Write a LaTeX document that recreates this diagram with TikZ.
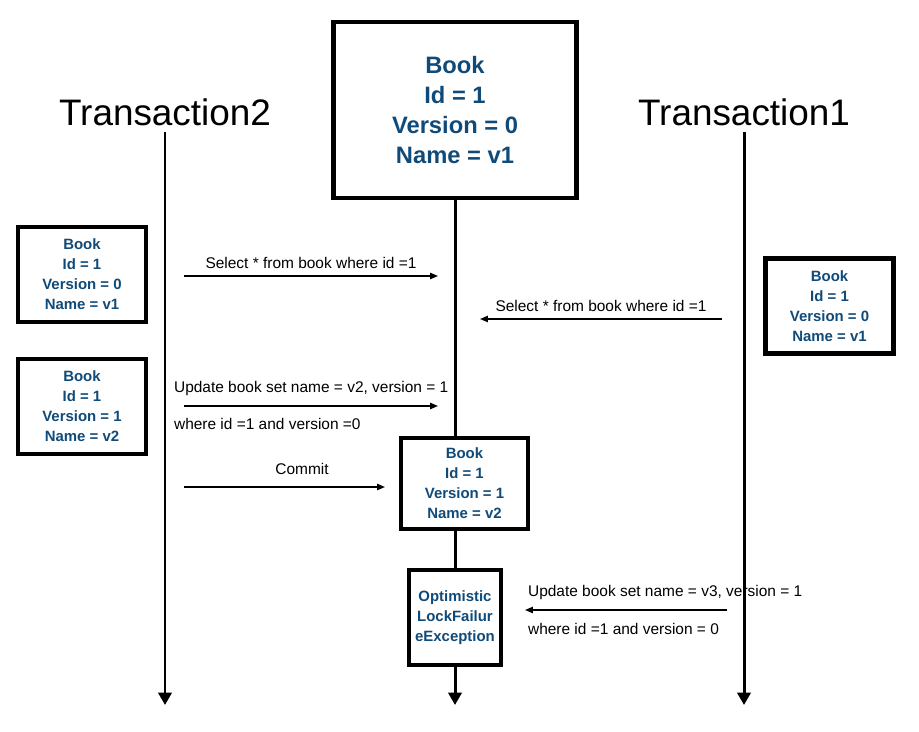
\documentclass[tikz,border=0pt]{standalone}
\usepackage{fontspec}
\setmainfont{Liberation Sans}
\usetikzlibrary{positioning,arrows.meta,calc}
\definecolor{bookblue}{RGB}{16,74,120}

\begin{document}
\begin{tikzpicture}[x=0.02cm,y=-0.02cm,
   bookbox/.style={draw,line width=2.6pt,align=center,text=bookblue,
     font=\fontsize{8.5}{11.4}\selectfont\bfseries,
     minimum width=2.56cm,minimum height=1.9cm,inner sep=2pt},
   lifeline/.style={line width=1.7pt,-{Triangle[width=7.5pt,length=7pt]}},
   msg/.style={line width=0.75pt,-{Triangle[width=3.6pt,length=4.5pt]}},
   msgtext/.style={font=\fontsize{8.8}{10}\selectfont,inner sep=1pt},
   title/.style={font=\fontsize{21}{24}\selectfont}]
  \useasboundingbox (0,0) rectangle (919,732);

  % transactions and the database row
  \node[title] (t2) at (165,112) {Transaction2};
  \node[title] (t1) at (744,112) {Transaction1};
  \node[bookbox,minimum width=4.86cm,minimum height=3.52cm,
        font=\fontsize{13.5}{17}\selectfont\bfseries] (db) at (455,110)
        {Book\\Id = 1\\Version = 0\\Name = v1};

  % row as each transaction sees it
  \node[bookbox] (t2read) at (82,274.5) {Book\\Id = 1\\Version = 0\\Name = v1};
  \node[bookbox] (t2upd) at (82,406.5) {Book\\Id = 1\\Version = 1\\Name = v2};
  \node[bookbox] (t1read) at (829.5,306) {Book\\Id = 1\\Version = 0\\Name = v1};
  \node[bookbox,minimum width=2.54cm,minimum height=1.82cm] (dbnew) at (464.5,483.5)
        {Book\\Id = 1\\Version = 1\\Name = v2};
  \node[bookbox,minimum width=1.84cm,inner sep=1pt] (fail) at (455,617.5)
        {Optimistic\\LockFailur\\eException};

  \coordinate (t2end) at (165,705);
  \coordinate (t1end) at (744,705);
  \coordinate (dbend) at (455,705);

  % lifelines
  \draw[lifeline] (t2.south) -- (t2end);
  \draw[lifeline] (t1.south) -- (t1end);
  \draw[line width=1.7pt] (db.south) -- (db.south |- dbnew.north);
  \draw[line width=1.7pt] (db.south |- dbnew.south) -- (fail.north);
  \draw[lifeline] (fail.south) -- (dbend);

  % messages
  \coordinate (sel2a) at (184,276);  \coordinate (sel2b) at (438,276);
  \coordinate (sel1a) at (722,319);  \coordinate (sel1b) at (480,319);
  \coordinate (upd2a) at (184,406);  \coordinate (upd2b) at (438,406);
  \coordinate (coma)  at (184,487);  \coordinate (comb)  at (385,487);
  \coordinate (upd1a) at (727,610);  \coordinate (upd1b) at (525,610);

  \draw[msg] (sel2a) -- node[msgtext,above=3pt] {Select * from book where id =1} (sel2b);
  \draw[msg] (sel1a) -- node[msgtext,above=3pt] {Select * from book where id =1} (sel1b);
  \draw[msg] (upd2a) -- (upd2b);
  \node[msgtext,anchor=west] (upd2t) at (172,389) {Update book set name = v2, version = 1};
  \node[msgtext,anchor=west] (upd2w) at (172,424) {where id =1 and version =0};
  \draw[msg] (coma) -- (comb);
  \node[msgtext] (comt) at (302,469) {Commit};
  \draw[msg] (upd1a) -- (upd1b);
  \node[msgtext,anchor=west] (upd1t) at (526,593) {Update book set name = v3, version = 1};
  \node[msgtext,anchor=west] (upd1w) at (526,629) {where id =1 and version = 0};
\end{tikzpicture}
\end{document}
